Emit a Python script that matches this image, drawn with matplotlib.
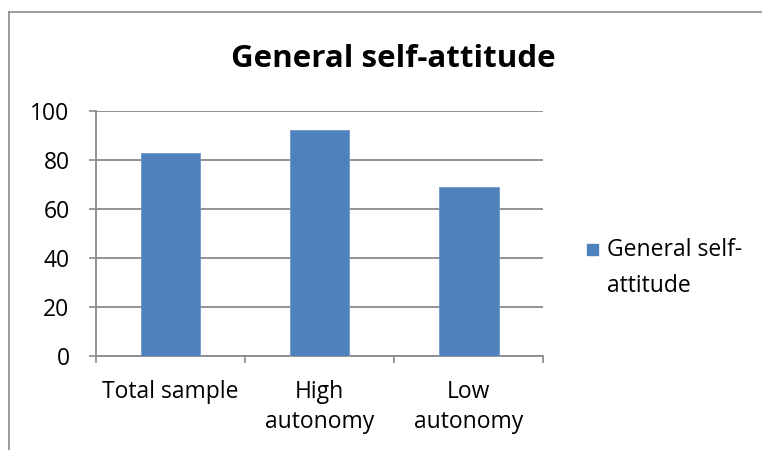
import matplotlib
matplotlib.use("Agg")
import matplotlib.pyplot as plt
from matplotlib.lines import Line2D
import numpy as np

categories = ["Total sample", "High\nautonomy", "Low\nautonomy"]
values = [82.6, 92.0, 68.8]
series_name = "General self-attitude"
legend_lines = ["General self-", "attitude"]
title = "General self-attitude"
yticks = [0, 20, 40, 60, 80, 100]

W, H = 762, 450
DPI = 100
plt.rcParams["font.family"] = ["Open Sans", "DejaVu Sans"]

fig = plt.figure(figsize=(W / DPI, H / DPI), dpi=DPI)
fig.patch.set_facecolor("white")

# chart-area frame (top and left edges)
grey = "#8c8c8c"
fig.add_artist(Line2D([9 / W, 1.0], [1 - 12 / H, 1 - 12 / H], color=grey, lw=1.2))
fig.add_artist(Line2D([9 / W, 9 / W], [0, 1 - 12 / H], color=grey, lw=1.2))

left, right = 96 / W, 543.3 / W
top, bottom = 1 - 110.7 / H, 1 - 356 / H
ax = fig.add_axes([left, bottom, right - left, top - bottom])

x = np.arange(len(categories))
ax.bar(x, values, width=0.4, color="#4F81BD", edgecolor="#6f97c9", linewidth=0.6,
       zorder=3)

FS = 16.5
ax.set_xlim(-0.5, len(categories) - 0.5)
ax.set_ylim(0, 100)
ax.set_yticks(yticks)
ax.set_yticklabels([str(t) for t in yticks], fontsize=FS)
ax.yaxis.grid(True, color="#8a8a8a", lw=1.3, zorder=0)

ax.set_xticks(x)
ax.set_xticklabels(categories, fontsize=FS, linespacing=1.35)
ax.tick_params(axis="x", which="major", length=0, pad=17)
ax.set_xticks(np.arange(len(categories) + 1) - 0.5, minor=True)
ax.tick_params(axis="x", which="minor", length=5, color="#8a8a8a", width=1.2)
ax.tick_params(axis="y", length=5, color="#8a8a8a", width=1.2, pad=14)

for s in ("top", "right"):
    ax.spines[s].set_visible(False)
for s in ("left", "bottom"):
    ax.spines[s].set_color("#8a8a8a")
    ax.spines[s].set_linewidth(1.3)

fig.text(393 / W, 1 - 59 / H, title, ha="center", va="center",
         fontsize=22.5, fontweight="bold")

# legend entry
fig.add_artist(plt.Rectangle((587 / W, 1 - 255 / H), 11 / W, 11 / H,
                             transform=fig.transFigure, color="#4F81BD"))
fig.text(607 / W, 1 - 250 / H, legend_lines[0], ha="left", va="center", fontsize=FS)
fig.text(607 / W, 1 - 286 / H, legend_lines[1], ha="left", va="center", fontsize=FS)

fig.savefig("out.png", dpi=DPI)
